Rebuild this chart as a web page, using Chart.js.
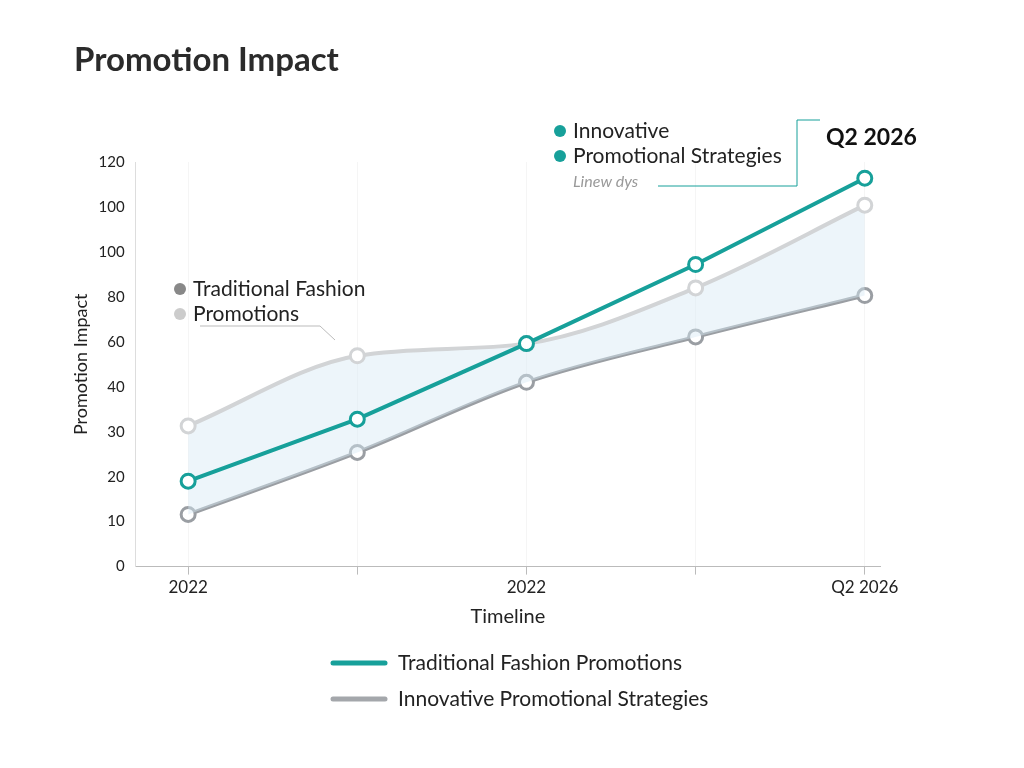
<!DOCTYPE html>
<html><head><meta charset="utf-8">
<script src="https://cdn.jsdelivr.net/npm/chart.js@4"></script>
<style>html,body{margin:0;background:#fff}#w{width:1024px;height:768px}</style>
</head><body><div id="w"><canvas id="c"></canvas></div>
<script>
const xLabels = ["2022", "", "2022", "", "Q2 2026"];
const yTickLabels = ["0", "10", "20", "30", "40", "60", "80", "100", "100", "120"];
// values in tick-position units (axis labels are non-uniform)
const innovative = [1.9, 3.28, 4.96, 6.72, 8.64];
const traditional = [1.16, 2.54, 4.1, 5.11, 6.03];
const promotions = [3.13, 4.69, 4.96, 6.2, 8.04];
const toXY = a => a.map((v, i) => ({x: i, y: v}));

const deco = {
  id: 'deco',
  afterDraw(ch) {
    const c = ch.ctx; c.save();
    c.fillStyle = '#2b2b2b'; c.font = 'bold 33px Lato'; c.textBaseline = 'middle';
    c.fillText('Promotion Impact', 74, 60);
    c.fillStyle = '#17a09a';
    [[560, 131], [560, 156]].forEach(p => { c.beginPath(); c.arc(p[0], p[1], 6, 0, 7); c.fill(); });
    c.fillStyle = '#222'; c.font = '21px Lato';
    c.fillText('Innovative', 573, 131); c.fillText('Promotional Strategies', 573, 156);
    c.fillStyle = '#999'; c.font = 'italic 16px Lato'; c.fillText('Linew dys', 573, 182);
    c.strokeStyle = '#17a09a'; c.lineWidth = 1;
    c.beginPath(); c.moveTo(658, 186); c.lineTo(797, 186); c.lineTo(797, 120); c.lineTo(820, 120); c.stroke();
    c.fillStyle = '#111'; c.font = 'bold 23px Lato'; c.fillText('Q2 2026', 826, 138);
    c.fillStyle = '#888'; c.beginPath(); c.arc(180, 289, 6, 0, 7); c.fill();
    c.fillStyle = '#ccc'; c.beginPath(); c.arc(180, 314, 6, 0, 7); c.fill();
    c.fillStyle = '#222'; c.font = '21px Lato';
    c.fillText('Traditional Fashion', 193, 289); c.fillText('Promotions', 193, 314);
    c.strokeStyle = '#bbb'; c.beginPath(); c.moveTo(200, 326); c.lineTo(320, 326); c.lineTo(335, 340); c.stroke();
    c.lineCap = 'round'; c.lineWidth = 5;
    c.strokeStyle = '#17a09a'; c.beginPath(); c.moveTo(333, 663); c.lineTo(385, 663); c.stroke();
    c.strokeStyle = '#a4a7ab'; c.beginPath(); c.moveTo(333, 699); c.lineTo(385, 699); c.stroke();
    c.fillStyle = '#222'; c.font = '21px Lato';
    c.fillText('Traditional Fashion Promotions', 398, 663);
    c.fillText('Innovative Promotional Strategies', 398, 699);
    c.restore();
  }
};

const pt = col => ({pointRadius: 7, pointHoverRadius: 7, pointBackgroundColor: '#fff', pointBorderColor: col, pointBorderWidth: 3, borderColor: col});
new Chart(document.getElementById('c'), {
  type: 'line',
  data: { datasets: [
    Object.assign({label: 'Innovative', data: toXY(innovative), borderWidth: 4, tension: 0, fill: false, order: 0}, pt('#17a09a')),
    Object.assign({label: 'Traditional', data: toXY(traditional), borderWidth: 4, cubicInterpolationMode: 'monotone', fill: false, order: 2}, pt('#9a9ea3')),
    Object.assign({label: 'Promotions', data: toXY(promotions), borderWidth: 4, cubicInterpolationMode: 'monotone', fill: {target: 1}, backgroundColor: 'rgba(215,232,243,0.45)', order: 1}, pt('#d2d4d6'))
  ]},
  options: {
    responsive: true, maintainAspectRatio: false, animation: false,
    layout: {padding: {top: 162, left: 66, right: 144, bottom: 135}},
    plugins: {legend: {display: false}, tooltip: {enabled: false}},
    scales: {
      x: {type: 'linear', min: -0.31, max: 4.09,
        afterBuildTicks: a => { a.ticks = [0,1,2,3,4].map(v => ({value: v})); },
        ticks: {callback: v => xLabels[v], color: '#222', font: {family: 'Lato', size: 17}, maxRotation: 0, autoSkip: false},
        grid: {display: true, drawOnChartArea: true, color: 'rgba(0,0,0,0.04)', tickLength: 8, tickColor: '#bbb'},
        border: {color: '#bbb'},
        title: {display: true, text: 'Timeline', color: '#222', font: {family: 'Lato', size: 20}}
      },
      y: {type: 'linear', min: 0, max: 9,
        afterBuildTicks: a => { a.ticks = yTickLabels.map((_, i) => ({value: i})); },
        ticks: {callback: v => yTickLabels[v], color: '#222', font: {family: 'Lato', size: 15}, autoSkip: false},
        grid: {display: false},
        border: {color: '#ddd'},
        title: {display: true, text: 'Promotion Impact', color: '#222', font: {family: 'Lato', size: 18}}
      }
    }
  },
  plugins: [deco]
});
</script></body></html>
